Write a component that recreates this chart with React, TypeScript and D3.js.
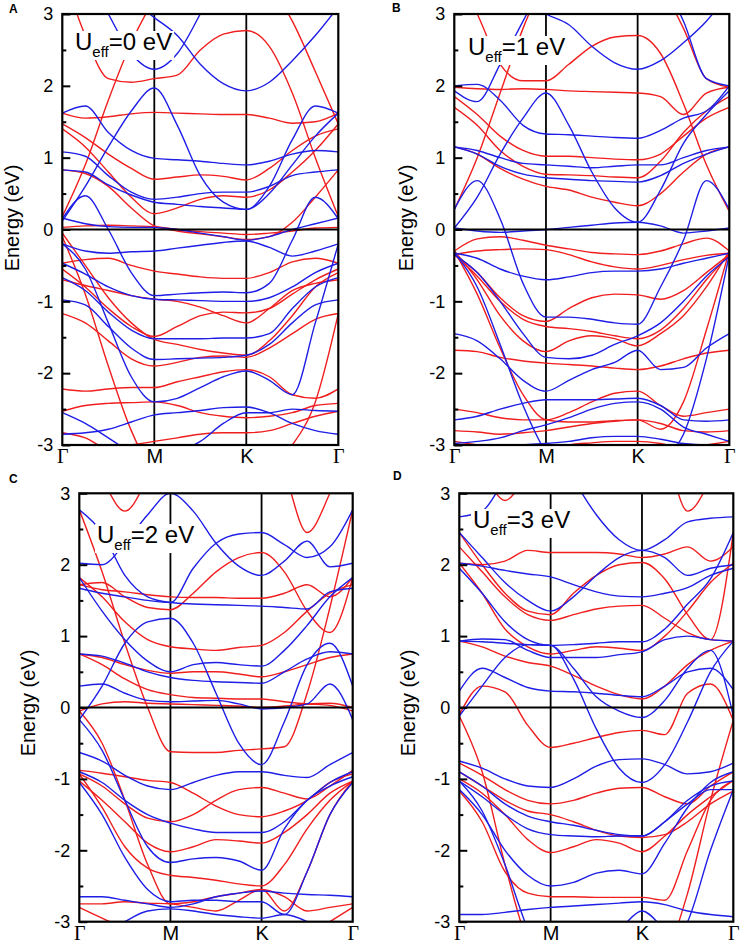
import * as d3 from "d3";
import { useEffect, useRef } from "react";

const WIDTH = 741;
const HEIGHT = 945;
const FONT = "'Liberation Sans', Arial, sans-serif";
const SERIF = "'Liberation Serif', 'Times New Roman', serif";
const RED = "#f01e1e";
const BLUE = "#1e1ee6";

// sample index along the path: Γ = 0, M = 4, K = 8, Γ = 12
const kNodes = [0, 4, 8, 12];
const kNames = ["Γ", "M", "K", "Γ"];
const energyMajor = [-3, -2, -1, 0, 1, 2, 3];
const energyMinor = [-2.5, -1.5, -0.5, 0.5, 1.5, 2.5];
const uValues = [0, 1, 2, 3];
const panelTags = ["A", "B", "C", "D"];

// U = 0 eV
const upA = [
  [3.6, 2.7, 2.1, 2.05, 2.1, 2.15, 2.5, 2.72, 2.77, 2.55, 1.9, 1.0, 0.18],
  [0.18, 0.9, 1.8, 2.6, 3.2, 3.6, 3.8, 3.8, 3.7, 3.4, 2.9, 2.2, 1.47],
  [1.62, 1.55, 1.57, 1.61, 1.63, 1.62, 1.61, 1.6, 1.6, 1.55, 1.48, 1.5, 1.62],
  [1.47, 1.28, 1.05, 0.85, 0.7, 0.73, 0.76, 0.74, 0.69, 0.85, 1.1, 1.3, 1.4],
  [1.4, 1.15, 0.8, 0.45, 0.22, 0.3, 0.42, 0.47, 0.45, 0.55, 0.8, 1.1, 1.47],
  [0.83, 0.78, 0.6, 0.3, 0.05, -0.02, -0.06, -0.1, -0.14, -0.1, 0.1, 0.45, 0.83],
  [0.03, 0.05, 0.06, 0.05, 0.04, 0.0, -0.03, -0.05, -0.07, -0.05, -0.02, 0.02, 0.03],
  [-0.47, -0.42, -0.4, -0.5, -0.58, -0.62, -0.66, -0.68, -0.68, -0.6, -0.45, -0.4, -0.47],
  [-0.55, -0.8, -1.1, -1.35, -1.49, -1.35, -1.2, -1.15, -1.16, -1.1, -0.9, -0.7, -0.55],
  [-0.05, -0.5, -0.95, -1.3, -1.53, -1.6, -1.67, -1.72, -1.75, -1.55, -1.2, -0.8, -0.6],
  [-0.7, -0.78, -0.85, -0.92, -0.97, -1.0, -1.08, -1.2, -1.3, -1.1, -0.85, -0.75, -0.7],
  [-1.17, -1.3, -1.55, -1.8, -1.9, -1.85, -1.78, -1.76, -1.78, -1.65, -1.45, -1.25, -1.17],
  [-2.22, -2.25, -2.22, -2.2, -2.2, -2.12, -2.05, -1.98, -1.95, -2.05, -2.3, -2.35, -2.22],
  [-2.53, -2.45, -2.42, -2.41, -2.4, -2.45, -2.55, -2.6, -2.62, -2.6, -2.55, -2.45, -2.42],
  [-2.83, -2.9, -3.05, -3.0, -2.95, -2.9, -2.85, -2.83, -2.83, -2.8, -2.7, -2.6, -2.53],
  [-0.1, -0.9, -1.9, -2.8, -3.4, -3.6, -3.6, -3.6, -3.5, -3.3, -3.0, -2.4, -1.17],
];
const downA = [
  [3.6, 3.5, 3.4, 3.2, 2.95, 2.7, 2.3, 2.03, 1.93, 2.05, 2.35, 2.7, 3.1],
  [4.0, 3.6, 3.0, 2.45, 2.23, 2.45, 3.0, 3.6, 4.0, 4.0, 4.0, 4.0, 4.0],
  [0.12, 0.6, 1.15, 1.65, 1.97, 1.45, 0.75, 0.38, 0.28, 0.6, 1.25, 1.72, 1.62],
  [0.15, 0.47, 0.0, -0.6, -0.92, -0.9, -0.88, -0.87, -0.88, -0.75, -0.15, 0.45, 0.15],
  [1.62, 1.72, 1.35, 1.1, 0.99, 0.97, 0.95, 0.92, 0.9, 0.95, 1.05, 1.1, 1.08],
  [1.08, 1.02, 0.75, 0.52, 0.42, 0.45, 0.5, 0.52, 0.52, 0.6, 0.75, 0.8, 0.83],
  [0.83, 0.8, 0.62, 0.48, 0.38, 0.35, 0.32, 0.3, 0.28, 0.5, 0.9, 1.3, 1.62],
  [0.16, 0.08, 0.04, 0.03, 0.03, 0.0, -0.05, -0.1, -0.15, -0.1, 0.0, 0.08, 0.16],
  [-0.2, -0.3, -0.33, -0.31, -0.3, -0.26, -0.22, -0.18, -0.16, -0.25, -0.37, -0.3, -0.2],
  [-0.67, -0.85, -1.15, -1.4, -1.52, -1.52, -1.52, -1.51, -1.51, -1.45, -1.1, -0.8, -0.67],
  [-0.98, -1.05, -1.35, -1.65, -1.81, -1.8, -1.79, -1.78, -1.75, -1.6, -1.3, -1.05, -0.98],
  [-0.47, -0.62, -0.8, -0.92, -0.97, -0.98, -0.99, -1.0, -1.0, -0.95, -0.8, -0.6, -0.47],
  [-0.2, -0.55, -1.3, -2.05, -2.4, -2.35, -2.2, -2.05, -1.97, -2.1, -2.3, -1.3, -0.2],
  [-2.85, -2.83, -2.78, -2.68, -2.58, -2.55, -2.52, -2.48, -2.47, -2.55, -2.7, -2.8, -2.85],
  [-2.55, -2.7, -2.9, -3.1, -3.2, -3.1, -2.95, -2.7, -2.55, -2.55, -2.5, -2.52, -2.53],
];

// U = 1 eV
const upB = [
  [3.6, 3.0, 2.3, 2.07, 2.07, 2.3, 2.55, 2.68, 2.7, 2.45, 1.75, 0.9, 0.25],
  [0.28, 1.0, 1.9, 2.8, 3.5, 3.8, 3.8, 3.8, 3.8, 3.4, 2.8, 2.1, 1.98],
  [1.98, 1.96, 1.95, 1.96, 1.95, 1.93, 1.92, 1.91, 1.9, 1.85, 1.6, 1.9, 1.98],
  [1.85, 1.6, 1.3, 1.1, 1.02, 1.02, 1.0, 0.98, 0.97, 1.05, 1.3, 1.55, 1.7],
  [1.7, 1.45, 1.1, 0.88, 0.77, 0.76, 0.75, 0.73, 0.72, 0.95, 1.35, 1.65, 1.85],
  [1.15, 1.05, 0.85, 0.7, 0.6, 0.55, 0.45, 0.38, 0.33, 0.5, 0.8, 1.05, 1.15],
  [-0.3, -0.13, -0.1, -0.15, -0.22, -0.27, -0.32, -0.34, -0.35, -0.3, -0.2, -0.12, -0.3],
  [-0.35, -0.3, -0.28, -0.27, -0.28, -0.35, -0.45, -0.52, -0.55, -0.5, -0.42, -0.36, -0.33],
  [-0.35, -0.6, -0.95, -1.2, -1.28, -1.1, -0.95, -0.9, -0.91, -0.97, -0.85, -0.6, -0.35],
  [-0.35, -0.65, -1.0, -1.25, -1.35, -1.38, -1.42, -1.48, -1.52, -1.4, -1.1, -0.7, -0.35],
  [-0.3, -0.7, -1.2, -1.55, -1.7, -1.55, -1.48, -1.52, -1.62, -1.45, -1.2, -0.8, -0.3],
  [-1.68, -1.7, -1.78, -1.83, -1.86, -1.88, -1.9, -1.93, -1.95, -1.9, -1.8, -1.72, -1.68],
  [-2.5, -2.55, -2.62, -2.65, -2.65, -2.55, -2.4, -2.28, -2.25, -2.45, -2.6, -2.55, -2.5],
  [-0.3, -0.9, -1.65, -2.3, -2.65, -2.68, -2.68, -2.66, -2.65, -2.78, -2.4, -1.4, -0.3],
  [-2.8, -2.82, -2.85, -2.83, -2.8, -2.75, -2.7, -2.67, -2.65, -2.7, -2.8, -2.82, -2.8],
  [-2.95, -3.0, -3.05, -3.1, -3.1, -3.0, -2.97, -2.95, -2.95, -2.98, -3.05, -3.0, -2.95],
];
const downB = [
  [3.8, 3.6, 3.4, 3.2, 3.0, 2.85, 2.55, 2.32, 2.23, 2.35, 2.6, 2.9, 3.3],
  [0.02, 0.45, 1.05, 1.55, 1.9, 1.45, 0.8, 0.3, 0.1, 0.55, 1.2, 1.6, 1.93],
  [0.28, 0.68, 0.15, -0.75, -1.22, -1.22, -1.25, -1.3, -1.32, -0.8, -0.15, 0.68, 0.28],
  [2.0, 2.02, 1.8, 1.45, 1.33, 1.32, 1.3, 1.28, 1.27, 1.38, 1.55, 1.65, 2.0],
  [1.93, 1.78, 2.3, 2.9, 3.5, 3.8, 3.8, 3.8, 3.8, 3.5, 2.9, 2.1, 2.0],
  [1.15, 1.1, 1.0, 0.92, 0.9, 0.88, 0.86, 0.88, 0.9, 0.9, 1.0, 1.1, 1.15],
  [1.15, 1.05, 0.88, 0.77, 0.72, 0.7, 0.68, 0.67, 0.66, 0.75, 0.92, 1.05, 1.15],
  [0.02, -0.02, -0.04, -0.02, 0.0, 0.03, 0.06, 0.09, 0.1, 0.05, -0.05, -0.02, 0.02],
  [-0.33, -0.4, -0.55, -0.65, -0.7, -0.66, -0.6, -0.58, -0.58, -0.55, -0.47, -0.4, -0.33],
  [-0.35, -0.6, -1.0, -1.45, -1.78, -1.8, -1.75, -1.6, -1.48, -1.3, -1.0, -0.65, -0.38],
  [-1.45, -1.55, -1.8, -2.1, -2.25, -2.1, -1.95, -1.85, -1.68, -1.95, -1.92, -1.65, -1.45],
  [-2.65, -2.6, -2.5, -2.42, -2.37, -2.37, -2.37, -2.36, -2.35, -2.45, -2.65, -2.67, -2.65],
  [-2.98, -2.95, -2.9, -2.8, -2.72, -2.62, -2.5, -2.42, -2.4, -2.5, -2.75, -2.85, -2.95],
  [-0.32, -0.8, -1.6, -2.45, -3.1, -3.4, -3.4, -3.4, -3.4, -3.2, -2.85, -1.8, -0.35],
  [-3.2, -3.2, -3.1, -3.0, -2.98, -2.95, -2.9, -2.88, -2.88, -2.92, -2.98, -3.0, -3.0],
];

// U = 2 eV
const upC = [
  [3.8, 3.2, 2.75, 3.2, 3.8, 4.0, 4.0, 4.0, 4.0, 4.0, 4.0, 4.0, 4.0],
  [4.0, 4.0, 4.0, 4.0, 4.0, 4.0, 4.0, 4.0, 4.0, 3.3, 2.45, 3.0, 3.8],
  [1.72, 1.65, 1.62, 1.58, 1.55, 1.54, 1.54, 1.53, 1.53, 1.6, 1.72, 1.55, 1.82],
  [1.72, 1.75, 1.55, 1.4, 1.37, 1.6, 1.9, 2.1, 2.17, 1.9, 1.35, 1.05, 1.82],
  [1.82, 1.55, 1.2, 0.95, 0.85, 0.82, 0.8, 0.84, 0.87, 1.05, 1.35, 1.6, 1.72],
  [0.75, 0.7, 0.6, 0.52, 0.48, 0.5, 0.5, 0.47, 0.43, 0.5, 0.6, 0.7, 0.75],
  [0.75, 0.6, 0.4, 0.25, 0.18, 0.14, 0.13, 0.12, 0.12, 0.08, 0.05, 0.03, -0.05],
  [-0.05, 0.05, 0.08, 0.06, 0.05, 0.04, 0.03, 0.02, 0.0, 0.02, 0.05, 0.06, 0.0],
  [2.77, 1.9, 0.9, 0.0, -0.62, -0.63, -0.63, -0.6, -0.58, -0.55, 0.2, 1.4, 2.77],
  [-0.05, -0.5, -1.3, -2.2, -2.75, -2.72, -2.65, -2.6, -2.55, -2.85, -2.3, -1.5, -1.03],
  [-0.88, -0.92, -0.97, -1.02, -1.05, -1.2, -1.38, -1.5, -1.53, -1.45, -1.3, -1.05, -0.93],
  [-0.93, -1.1, -1.35, -1.55, -1.6, -1.5, -1.3, -1.15, -1.12, -1.2, -1.28, -1.1, -0.88],
  [-1.03, -1.3, -1.6, -1.9, -2.02, -1.95, -1.85, -1.87, -1.9, -1.75, -1.5, -1.2, -1.03],
  [-0.93, -1.4, -1.95, -2.25, -2.35, -2.38, -2.42, -2.47, -2.5, -2.2, -1.7, -1.3, -1.03],
  [-2.75, -2.75, -2.72, -2.74, -2.75, -2.8, -2.85, -2.7, -2.55, -2.65, -2.85, -2.8, -2.75],
  [-2.8, -2.95, -3.1, -3.3, -3.5, -3.5, -3.5, -3.5, -3.5, -3.4, -3.2, -3.0, -2.8],
];
const downC = [
  [2.02, 2.0, 2.3, 2.7, 3.0, 2.75, 2.3, 1.98, 1.85, 2.05, 2.33, 1.97, 2.02],
  [1.67, 1.6, 1.55, 1.5, 1.47, 1.95, 2.3, 2.43, 2.45, 2.28, 2.1, 2.25, 2.77],
  [2.77, 2.45, 1.85, 1.55, 1.47, 1.45, 1.44, 1.43, 1.42, 1.4, 1.38, 1.62, 1.67],
  [-0.17, 0.3, 0.9, 1.2, 1.25, 0.9, 0.2, -0.5, -0.8, -0.2, 0.6, 0.9, 0.3],
  [1.82, 1.35, 0.95, 0.65, 0.5, 0.6, 0.63, 0.6, 0.58, 0.8, 1.15, 1.55, 1.82],
  [0.75, 0.72, 0.62, 0.5, 0.42, 0.38, 0.36, 0.35, 0.34, 0.5, 0.68, 0.78, 0.75],
  [0.3, 0.33, 0.2, 0.1, 0.08, 0.09, 0.1, 0.05, -0.02, 0.0, 0.05, 0.33, -0.17],
  [-0.63, -0.75, -0.95, -1.1, -1.15, -1.05, -0.95, -0.9, -0.9, -0.95, -0.98, -0.8, -0.63],
  [-0.9, -1.05, -1.3, -1.5, -1.62, -1.7, -1.75, -1.75, -1.75, -1.6, -1.3, -1.05, -0.9],
  [-0.17, -0.6, -1.3, -1.95, -2.17, -2.12, -2.1, -2.15, -2.28, -1.7, -1.3, -1.1, -0.97],
  [-1.05, -1.5, -2.1, -2.55, -2.72, -2.7, -2.7, -2.72, -2.72, -2.9, -2.3, -1.5, -1.05],
  [-2.65, -2.65, -2.7, -2.75, -2.8, -2.75, -2.65, -2.6, -2.57, -2.6, -2.62, -2.63, -2.65],
  [-3.3, -3.2, -3.0, -2.85, -2.82, -2.85, -2.9, -2.93, -2.95, -2.9, -3.0, -3.2, -3.3],
];

// U = 3 eV
const upD = [
  [3.6, 3.3, 2.9, 3.3, 3.8, 4.0, 4.0, 4.0, 4.0, 4.0, 4.0, 4.0, 4.0],
  [4.0, 4.0, 4.0, 4.0, 4.0, 4.0, 4.0, 4.0, 4.0, 3.6, 2.75, 3.2, 4.0],
  [2.02, 2.0, 2.05, 2.2, 2.17, 2.17, 2.17, 2.15, 2.1, 2.15, 2.25, 2.05, 2.25],
  [2.45, 2.0, 1.6, 1.35, 1.3, 1.6, 1.85, 2.0, 2.03, 1.8, 1.3, 0.95, 2.45],
  [2.25, 1.9, 1.55, 1.3, 1.22, 1.3, 1.38, 1.42, 1.43, 1.25, 1.05, 0.95, 0.93],
  [2.02, 1.6, 1.1, 0.85, 0.75, 0.8, 0.85, 0.83, 0.8, 1.0, 1.35, 1.75, 2.02],
  [0.93, 0.85, 0.72, 0.63, 0.58, 0.45, 0.3, 0.18, 0.12, 0.3, 0.6, 0.8, 0.93],
  [-0.1, 0.3, 0.22, -0.25, -0.56, -0.5, -0.42, -0.35, -0.32, -0.38, 0.2, 0.33, -0.18],
  [-1.0, -1.2, -1.5, -1.85, -2.03, -1.95, -1.85, -1.9, -2.02, -1.8, -1.5, -1.25, -1.02],
  [-0.78, -0.95, -1.15, -1.3, -1.35, -1.3, -1.2, -1.13, -1.12, -1.25, -1.35, -1.1, -0.9],
  [-0.9, -1.1, -1.3, -1.45, -1.5, -1.6, -1.72, -1.8, -1.82, -1.78, -1.6, -1.35, -1.17],
  [-1.17, -1.6, -2.3, -2.6, -2.65, -2.65, -2.66, -2.66, -2.66, -2.7, -2.0, -1.3, -1.02],
  [-0.12, -0.9, -2.2, -3.3, -3.8, -3.8, -3.8, -3.8, -3.8, -3.5, -2.6, -1.3, -0.18],
];
const downD = [
  [2.67, 2.75, 3.2, 3.6, 3.8, 3.2, 2.7, 2.35, 2.2, 2.35, 2.6, 2.65, 2.67],
  [2.45, 2.1, 1.75, 1.5, 1.35, 1.55, 1.85, 2.1, 2.2, 2.1, 1.85, 1.95, 2.0],
  [2.02, 1.98, 1.92, 1.87, 1.83, 1.72, 1.62, 1.56, 1.55, 1.6, 1.68, 1.85, 1.95],
  [1.95, 1.6, 1.2, 0.95, 0.87, 0.88, 0.9, 0.92, 0.92, 1.1, 1.45, 1.8, 2.45],
  [0.93, 0.96, 0.95, 0.8, 0.7, 0.7, 0.7, 0.74, 0.78, 0.95, 1.0, 0.95, 0.93],
  [0.23, 0.55, 0.42, 0.28, 0.23, 0.22, 0.2, 0.17, 0.15, 0.3, 0.5, 0.55, 0.25],
  [-0.12, 0.3, 0.7, 0.88, 0.87, 0.55, 0.15, -0.05, -0.14, 0.1, 0.55, 0.8, -0.12],
  [0.93, 0.92, 0.9, 0.88, 0.87, 0.4, -0.3, -0.85, -1.05, -0.8, -0.2, 0.5, 0.93],
  [-0.75, -0.85, -1.0, -1.1, -1.12, -1.0, -0.82, -0.73, -0.72, -0.8, -0.93, -0.9, -0.78],
  [-0.9, -1.1, -1.35, -1.52, -1.6, -1.65, -1.72, -1.78, -1.8, -1.6, -1.3, -1.1, -1.03],
  [-1.03, -1.25, -1.5, -1.7, -1.78, -1.8, -1.81, -1.8, -1.8, -1.6, -1.35, -1.15, -1.15],
  [-1.15, -1.5, -2.0, -2.35, -2.5, -2.45, -2.32, -2.28, -2.33, -1.9, -1.4, -1.05, -0.9],
  [-2.9, -2.9, -2.87, -2.83, -2.8, -2.78, -2.76, -2.74, -2.72, -2.76, -2.85, -2.9, -2.93],
  [-3.6, -3.6, -3.6, -3.5, -3.4, -3.3, -3.2, -3.1, -2.85, -3.1, -3.3, -3.5, -3.6],
  [-1.03, -1.45, -2.2, -3.1, -3.6, -3.6, -3.6, -3.6, -3.6, -3.4, -3.0, -2.0, -1.15],
];

const spinUp = [upA, upB, upC, upD];
const spinDown = [downA, downB, downC, downD];

// plot boxes and text anchors for the 2x2 grid
const panels = [
  { left: 62.3, right: 338.3, top: 14, bottom: 445, tag: [9, 13], label: [75, 50], ylab: [19, 218] },
  { left: 454.3, right: 729.3, top: 14, bottom: 445, tag: [392, 12], label: [468, 55], ylab: [413, 218] },
  { left: 79.3, right: 352.7, top: 493.3, bottom: 921.7, tag: [9, 483], label: [97, 543], ylab: [35, 703] },
  { left: 459.3, right: 733.3, top: 493.3, bottom: 921.7, tag: [393, 480], label: [473, 528], ylab: [415, 703] },
];

function drawPanel(svg: any, i: number) {
  const p = panels[i];
  const x = d3.scaleLinear().domain([0, 12]).range([p.left, p.right]);
  const y = d3.scaleLinear().domain([-3, 3]).range([p.bottom, p.top]);
  const g = svg.append("g");

  g.append("clipPath")
    .attr("id", `clip-${i}`)
    .append("rect")
    .attr("x", p.left)
    .attr("y", p.top)
    .attr("width", p.right - p.left)
    .attr("height", p.bottom - p.top);

  // vertical lines at M and K
  g.append("g")
    .selectAll("line")
    .data(kNodes.slice(1, 3))
    .join("line")
    .attr("x1", (d: number) => x(d))
    .attr("x2", (d: number) => x(d))
    .attr("y1", p.top)
    .attr("y2", p.bottom)
    .attr("stroke", "#000")
    .attr("stroke-width", 1.8);

  const band = d3
    .line<number>()
    .x((_, k) => x(k))
    .y((d) => y(d))
    .curve(d3.curveMonotoneX);

  const bands = g
    .append("g")
    .attr("clip-path", `url(#clip-${i})`)
    .attr("fill", "none")
    .attr("stroke-width", 1.4);

  bands
    .selectAll(".up")
    .data(spinUp[i])
    .join("path")
    .attr("class", "up")
    .attr("d", band)
    .attr("stroke", RED);

  bands
    .selectAll(".down")
    .data(spinDown[i])
    .join("path")
    .attr("class", "down")
    .attr("d", band)
    .attr("stroke", BLUE);

  // Fermi level
  g.append("line")
    .attr("x1", p.left)
    .attr("x2", p.right)
    .attr("y1", y(0))
    .attr("y2", y(0))
    .attr("stroke", "#000")
    .attr("stroke-width", 2);

  // U_eff label on a white patch
  const label = g
    .append("text")
    .attr("x", p.label[0])
    .attr("y", p.label[1])
    .attr("font-family", FONT)
    .attr("font-size", 24)
    .attr("fill", "#000");
  label.append("tspan").text("U");
  label.append("tspan").attr("font-size", 15).attr("dy", 7).text("eff");
  label.append("tspan").attr("dy", -7).text(`=${uValues[i]} eV`);
  const bb = label.node().getBBox();
  g.insert("rect", () => label.node())
    .attr("x", bb.x - 2)
    .attr("y", bb.y + 3)
    .attr("width", bb.width + 4)
    .attr("height", bb.height - 3)
    .attr("fill", "#fff");

  // frame
  g.append("rect")
    .attr("x", p.left)
    .attr("y", p.top)
    .attr("width", p.right - p.left)
    .attr("height", p.bottom - p.top)
    .attr("fill", "none")
    .attr("stroke", "#000")
    .attr("stroke-width", 2.2);

  // energy axis, ticks pointing inwards
  const yAxis = g
    .append("g")
    .attr("transform", `translate(${p.left},0)`)
    .call(
      d3
        .axisLeft(y)
        .tickValues(energyMajor)
        .tickSize(-8)
        .tickPadding(9)
        .tickFormat((d: any) => String(d))
    );
  yAxis.select(".domain").remove();
  yAxis.selectAll("line").attr("stroke", "#000").attr("stroke-width", 2);
  yAxis
    .selectAll("text")
    .attr("font-family", FONT)
    .attr("font-size", 18)
    .attr("fill", "#000");

  const yMinor = g
    .append("g")
    .attr("transform", `translate(${p.left},0)`)
    .call(d3.axisLeft(y).tickValues(energyMinor).tickSize(-4).tickFormat(() => ""));
  yMinor.select(".domain").remove();
  yMinor.selectAll("line").attr("stroke", "#000").attr("stroke-width", 2);

  // high-symmetry point names
  const kAxis = g
    .append("g")
    .attr("transform", `translate(0,${p.bottom})`)
    .call(
      d3
        .axisBottom(x)
        .tickValues(kNodes)
        .tickSize(0)
        .tickPadding(4)
        .tickFormat((_: any, j: number) => kNames[j])
    );
  kAxis.select(".domain").remove();
  kAxis
    .selectAll("text")
    .attr("font-family", (_: any, j: number) => (kNames[j] === "Γ" ? SERIF : FONT))
    .attr("font-size", 20)
    .attr("fill", "#000");

  g.append("text")
    .attr("transform", `translate(${p.ylab[0]},${p.ylab[1]}) rotate(-90)`)
    .attr("text-anchor", "middle")
    .attr("font-family", FONT)
    .attr("font-size", 20)
    .attr("fill", "#000")
    .text("Energy (eV)");

  g.append("text")
    .attr("x", p.tag[0])
    .attr("y", p.tag[1])
    .attr("font-family", FONT)
    .attr("font-weight", "bold")
    .attr("font-size", 12)
    .attr("fill", "#000")
    .text(panelTags[i]);
}

export default function App() {
  const ref = useRef<SVGSVGElement>(null);

  useEffect(() => {
    const svg = d3.select(ref.current);
    svg.selectAll("*").remove();
    panels.forEach((_, i) => drawPanel(svg, i));
  }, []);

  return (
    <svg
      ref={ref}
      width={WIDTH}
      height={HEIGHT}
      style={{ position: "absolute", left: 0, top: 0, background: "#fff" }}
    />
  );
}
